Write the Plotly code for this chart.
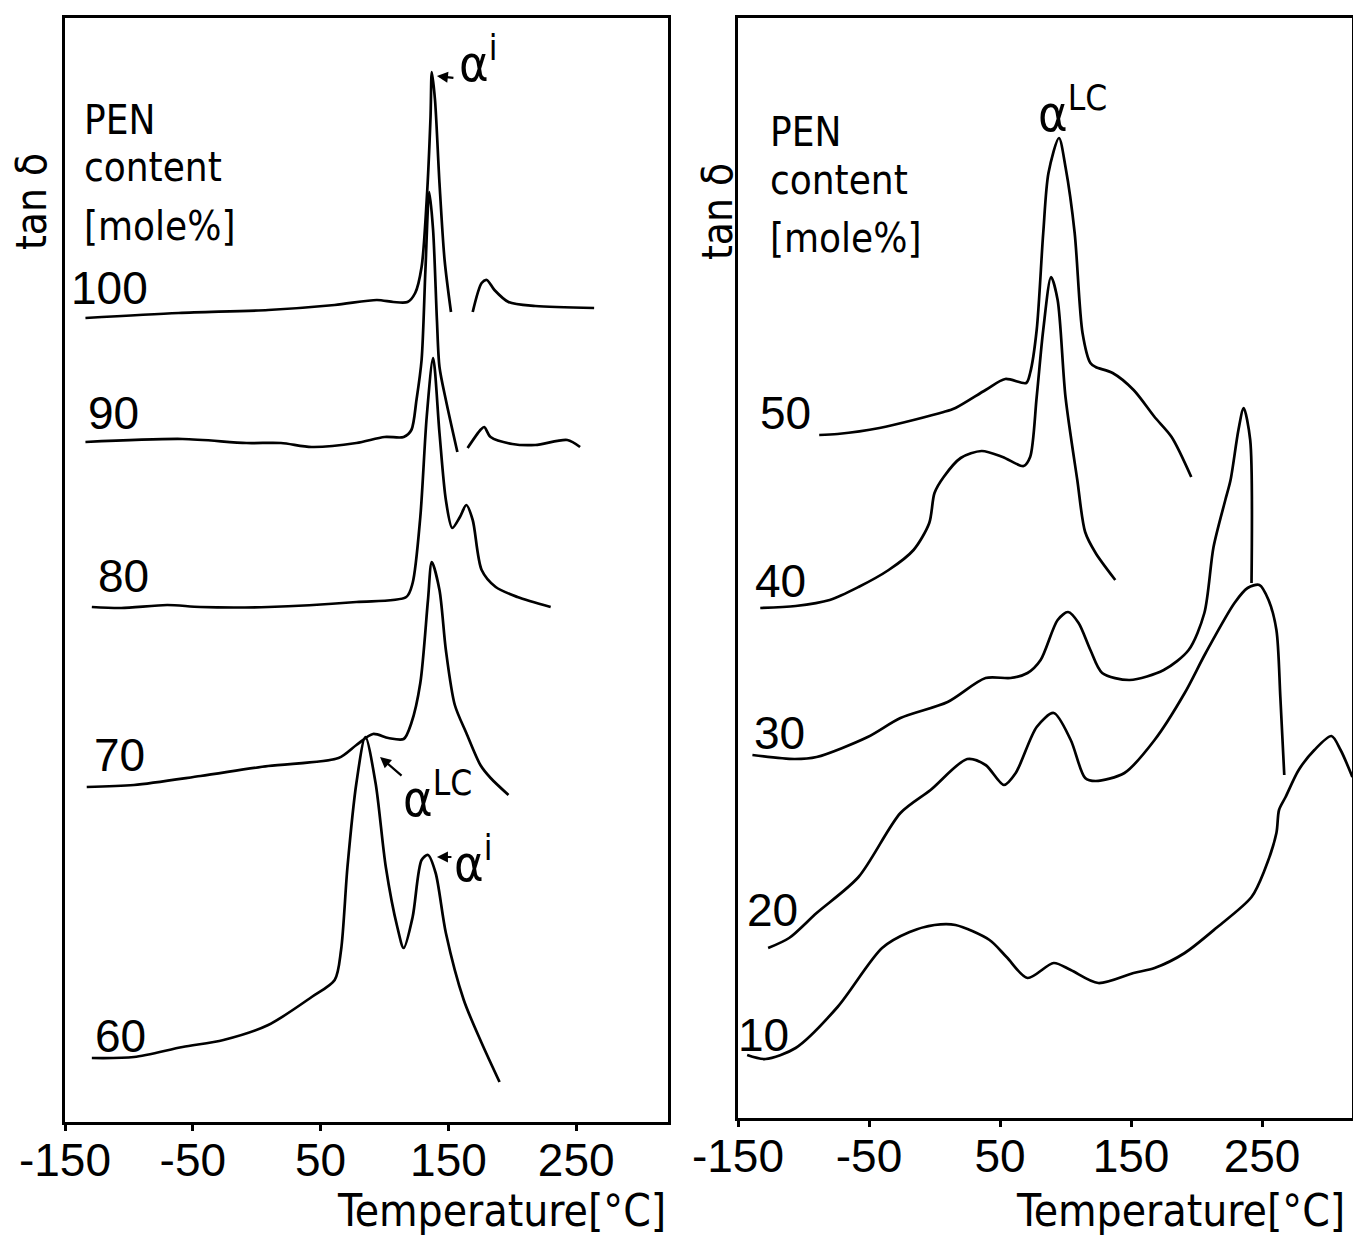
import plotly.graph_objects as go

# ---------------- data (temperature in °C, tan δ in arbitrary offset units) -------------
# Left panel: PEN content 100..60 mole%
t_100 = [-134, -61, 9, 61, 94, 107, 118, 124, 129, 133, 136, 137, 139.5, 143, 147, 152, None,
         169, 176, 180, 186, 197, 218, 264]
v_100 = [8.04, 8.09, 8.12, 8.17, 8.22, 8.20, 8.20, 8.29, 8.55, 9.22, 10.05, 10.50, 10.22, 9.39, 8.62, 8.10, None,
         8.10, 8.39, 8.42, 8.32, 8.20, 8.16, 8.14]

t_90 = [-134, -58, -8, 19, 43, 78, 100, 115, 121, 125, 129, 132, 135, 138, 141, 143, 148, 157, None,
        165, 175, 178, 183, 200, 218, 243, 253]
v_90 = [6.80, 6.83, 6.79, 6.79, 6.75, 6.79, 6.85, 6.85, 6.92, 7.22, 7.62, 8.52, 9.30, 8.92, 8.02, 7.55, 7.22, 6.70, None,
        6.74, 6.92, 6.95, 6.85, 6.78, 6.77, 6.82, 6.75]

t_80 = [-129, -106, -70, -44, 9, 78, 117, 122, 128, 133, 138, 143, 148, 153, 159, 164, 169, 176, 187, 204, 230]
v_80 = [5.15, 5.14, 5.17, 5.15, 5.15, 5.20, 5.25, 5.39, 6.05, 7.05, 7.64, 6.89, 6.22, 5.94, 6.05, 6.17, 6.02, 5.52,
        5.35, 5.25, 5.15]

t_70 = [-133, -96, -44, 9, 64, 78, 91, 103, 115, 121, 128, 134, 137, 143, 148, 155, 164, 175, 183, 197]
v_70 = [3.35, 3.37, 3.46, 3.56, 3.64, 3.77, 3.88, 3.84, 3.83, 3.99, 4.39, 5.22, 5.60, 5.32, 4.72, 4.17, 3.89, 3.57,
        3.44, 3.27]

t_60 = [-129, -96, -58, -26, 9, 43, 61, 66, 71, 78, 85, 93, 101, 110, 115, 122, 129, 134, 140, 148, 162, 176, 190]
v_60 = [0.64, 0.65, 0.75, 0.82, 0.97, 1.25, 1.42, 1.72, 2.55, 3.39, 3.85, 3.39, 2.55, 1.95, 1.74, 2.05, 2.62, 2.67,
        2.49, 1.89, 1.22, 0.79, 0.40]

# Right panel: PEN content 50..10 mole%
t_50 = [-88, -74, -42, 7, 16, 39, 54, 70, 73, 78, 83, 87, 95, 100, 107, 113, 119, 123, 136, 152, 168, 181, 196]
v_50 = [6.83, 6.84, 6.90, 7.06, 7.10, 7.28, 7.39, 7.35, 7.45, 7.88, 8.85, 9.45, 9.80, 9.51, 8.85, 7.85, 7.55, 7.51,
        7.45, 7.28, 7.01, 6.81, 6.41]

t_40 = [-133, -106, -80, -58, -35, -16, -4, 0, 7, 20, 36, 52, 68, 73, 78, 83, 89, 94, 100, 109, 115, 123, 138]
v_40 = [5.10, 5.12, 5.18, 5.31, 5.48, 5.68, 5.95, 6.25, 6.41, 6.60, 6.67, 6.61, 6.52, 6.61, 7.21, 7.88, 8.41, 8.18,
        7.21, 6.38, 5.86, 5.65, 5.38]

t_30 = [-139, -107, -90, -51, -26, 10, 39, 58, 71, 81, 94, 102, 110, 119, 128, 149, 175, 194, 206, 213, 222, 226,
        232, 236, 241, 242]
v_30 = [3.63, 3.59, 3.61, 3.81, 4.00, 4.16, 4.40, 4.40, 4.45, 4.58, 4.98, 5.06, 4.95, 4.68, 4.45, 4.38, 4.48, 4.68,
        5.05, 5.71, 6.18, 6.38, 6.88, 7.10, 6.78, 5.35]

t_20 = [-127, -111, -90, -58, -26, -3, 25, 39, 53, 62, 78, 91, 104, 115, 123, 145, 168, 191, 207, 229, 239, 248,
        255, 261, 264, 267]
v_20 = [1.70, 1.80, 2.05, 2.41, 3.05, 3.28, 3.59, 3.53, 3.33, 3.45, 3.91, 4.05, 3.78, 3.40, 3.37, 3.45, 3.78, 4.25,
        4.65, 5.15, 5.30, 5.33, 5.18, 4.88, 4.21, 3.43]

t_10 = [-143, -129, -106, -74, -40, -19, 0, 16, 42, 55, 71, 91, 104, 125, 152, 168, 191, 216, 242, 252, 261, 263,
        268, 278, 290, 303, 310, 319]
v_10 = [0.63, 0.59, 0.70, 1.11, 1.70, 1.86, 1.93, 1.93, 1.78, 1.61, 1.40, 1.55, 1.48, 1.35, 1.45, 1.50, 1.65, 1.91,
        2.21, 2.48, 2.85, 3.08, 3.21, 3.48, 3.68, 3.82, 3.68, 3.41]

tick_vals = [-150, -50, 50, 150, 250]
tick_text = ["-150", "-50", "50", "150", "250"]

left_series = [("100", t_100, v_100), ("90", t_90, v_90), ("80", t_80, v_80),
               ("70", t_70, v_70), ("60", t_60, v_60)]
right_series = [("50", t_50, v_50), ("40", t_40, v_40), ("30", t_30, v_30),
                ("20", t_20, v_20), ("10", t_10, v_10)]

# label positions (temperature, tan δ) for the content labels
left_label_pos = {"100": (-114.8, 8.34), "90": (-111.7, 7.09), "80": (-104.6, 5.46),
                  "70": (-107.0, 3.67), "60": (-106.2, 0.86)}
right_label_pos = {"50": (-114.1, 7.05), "40": (-117.9, 5.37), "30": (-118.7, 3.85),
                   "20": (-123.3, 2.08), "10": (-130.9, 0.83)}

# ---------------- figure -------------
W, H = 1353, 1239
NUM_FONT = "Liberation Sans Narrow, Arial Narrow, Liberation Sans, sans-serif"
TXT_FONT = "DejaVu Sans Condensed, DejaVu Sans, sans-serif"
LW = 2.7

fig = go.Figure()
for name, t, v in left_series:
    fig.add_trace(go.Scatter(x=t, y=v, mode="lines", name=name, xaxis="x", yaxis="y",
                             line=dict(color="black", width=LW, shape="spline", smoothing=0.8),
                             connectgaps=False, showlegend=False, hoverinfo="skip"))
for name, t, v in right_series:
    fig.add_trace(go.Scatter(x=t, y=v, mode="lines", name=name, xaxis="x2", yaxis="y2",
                             line=dict(color="black", width=LW, shape="spline", smoothing=0.8),
                             connectgaps=False, showlegend=False, hoverinfo="skip"))

axis_common = dict(showline=True, linecolor="black", linewidth=2.5, mirror=True,
                   showgrid=False, zeroline=False, automargin=False)

fig.update_layout(
    width=W, height=H, autosize=False,
    margin=dict(l=0, r=0, t=0, b=0, autoexpand=False),
    paper_bgcolor="white", plot_bgcolor="white",
    xaxis=dict(domain=[65 / W, 668 / W], range=[-150, 321.8], tickmode="array",
               tickvals=tick_vals, ticktext=tick_text, ticks="outside", ticklen=6,
               tickwidth=2.5, tickcolor="black", ticklabelstandoff=-10,
               tickfont=dict(family=NUM_FONT, size=46, color="black"), anchor="y", **axis_common),
    yaxis=dict(domain=[(H - 1122) / H, (H - 18) / H], range=[0, 11.04], showticklabels=False,
               ticks="", anchor="x", **axis_common),
    xaxis2=dict(domain=[738 / W, 1352 / W], range=[-150, 318.7], tickmode="array",
                tickvals=tick_vals, ticktext=tick_text, ticks="outside", ticklen=6,
                tickwidth=2.5, tickcolor="black", ticklabelstandoff=-10,
                tickfont=dict(family=NUM_FONT, size=46, color="black"), anchor="y2", **axis_common),
    yaxis2=dict(domain=[(H - 1118) / H, (H - 18) / H], range=[0, 11.0], showticklabels=False,
                ticks="", anchor="x2", **axis_common),
)

ann = []
# content labels
for lab, (tx, ty) in left_label_pos.items():
    ann.append(dict(x=tx, y=ty, xref="x", yref="y", text=lab, showarrow=False,
                    font=dict(family=NUM_FONT, size=46, color="black"), xanchor="center", yanchor="middle"))
for lab, (tx, ty) in right_label_pos.items():
    ann.append(dict(x=tx, y=ty, xref="x2", yref="y2", text=lab, showarrow=False,
                    font=dict(family=NUM_FONT, size=46, color="black"), xanchor="center", yanchor="middle"))

# "PEN content [mole%]" blocks
for xr, yr, tx, ys in [("x", "y", -136.7, (10.02, 9.55, 8.96)), ("x2", "y2", -127.1, (9.86, 9.38, 8.80))]:
    for txt, yy in zip(["PEN", "content", "[mole%]"], ys):
        ann.append(dict(x=tx, y=yy, xref=xr, yref=yr, text=txt, showarrow=False,
                        font=dict(family=TXT_FONT, size=40, color="black"), xanchor="left", yanchor="middle"))

# tan δ axis titles
for px_x, px_y in [(31, 202), (717, 212)]:
    ann.append(dict(x=px_x / W, y=1 - px_y / H, xref="paper", yref="paper", text="tan δ", showarrow=False,
                    textangle=-90, font=dict(family=TXT_FONT, size=42, color="black"),
                    xanchor="center", yanchor="middle"))

# Temperature titles
for px_r in [668, 1347]:
    ann.append(dict(x=px_r / W, y=1 - 1210 / H, xref="paper", yref="paper", text="Temperature[°C]",
                    showarrow=False, font=dict(family=TXT_FONT, size=44, color="black"),
                    xanchor="right", yanchor="middle"))

# alpha labels
AF = dict(family=TXT_FONT, size=50, color="black")
ann.append(dict(x=157, y=10.62, xref="x", yref="y", text="α<sup>i</sup>", showarrow=False, font=AF,
                xanchor="left", yanchor="middle"))
ann.append(dict(x=141, y=10.46, xref="x", yref="y", text="", showarrow=True, ax=18, ay=2,
                arrowhead=2, arrowsize=1, arrowwidth=2.2, arrowcolor="black"))
ann.append(dict(x=113, y=3.27, xref="x", yref="y", text="α<sup>LC</sup>", showarrow=False, font=AF,
                xanchor="left", yanchor="middle"))
ann.append(dict(x=96.5, y=3.65, xref="x", yref="y", text="", showarrow=True, ax=23, ay=20,
                arrowhead=2, arrowsize=1, arrowwidth=2.2, arrowcolor="black"))
ann.append(dict(x=153, y=2.62, xref="x", yref="y", text="α<sup>i</sup>", showarrow=False, font=AF,
                xanchor="left", yanchor="middle"))
ann.append(dict(x=141, y=2.65, xref="x", yref="y", text="", showarrow=True, ax=16, ay=0,
                arrowhead=2, arrowsize=1, arrowwidth=2.2, arrowcolor="black"))
ann.append(dict(x=105, y=10.08, xref="x2", yref="y2", text="α<sup>LC</sup>", showarrow=False, font=AF,
                xanchor="center", yanchor="middle"))

fig.update_layout(annotations=ann)
fig.write_html("out.html")
